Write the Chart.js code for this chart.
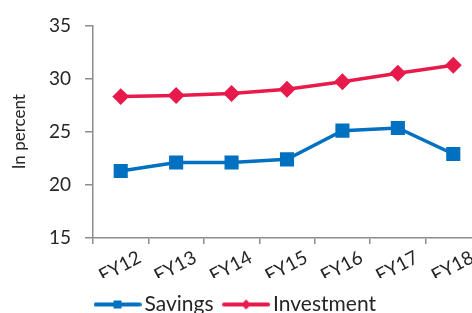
<!DOCTYPE html>
<html>
<head>
<meta charset="utf-8">
<script src="https://cdn.jsdelivr.net/npm/chart.js@4"></script>
<style>
  html, body { margin: 0; padding: 0; background: white; overflow: hidden; }
  #wrap { width: 492px; height: 325px; }
</style>
</head>
<body>
<div id="wrap"><canvas id="chart" width="492" height="325"></canvas></div>
<script>
var years = ["FY12", "FY13", "FY14", "FY15", "FY16", "FY17", "FY18"];
var savings = [21.3, 22.1, 22.1, 22.4, 25.1, 25.35, 22.9];
var investment = [28.3, 28.4, 28.6, 29.0, 29.7, 30.5, 31.25];
var yTicks = [15, 20, 25, 30, 35];

var BLUE = "#0070C0";
var RED = "#E8194B";
var AXIS = "#8C8C8C";
var TEXT = "#262626";

Chart.defaults.font.family = "Lato";
Chart.defaults.color = TEXT;

// little line+marker pictures for the legend
function legendIcon(color, style) {
    var c = document.createElement("canvas");
    c.width = 48; c.height = 14;
    var g = c.getContext("2d");
    g.strokeStyle = color;
    g.lineWidth = 4;
    g.lineCap = "round";
    g.beginPath(); g.moveTo(2, 7); g.lineTo(46, 7); g.stroke();
    g.fillStyle = color;
    if (style == "rect") {
        g.fillRect(24 - 4, 7 - 4, 8, 8);
    } else {
        g.beginPath();
        g.moveTo(24, 2); g.lineTo(29, 7); g.lineTo(24, 12); g.lineTo(19, 7);
        g.closePath(); g.fill();
    }
    return c;
}
var icons = [legendIcon(BLUE, "rect"), legendIcon(RED, "diamond")];

// nudge the legend a bit to the left, like the original
var legendShift = {
    id: "legendShift",
    afterLayout: function (chart) {
        if (chart.legend) chart.legend.left -= 8;
    }
};

new Chart(document.getElementById("chart"), {
    type: "line",
    data: {
        labels: years,
        datasets: [{
            label: "Savings",
            data: savings,
            borderColor: BLUE,
            backgroundColor: BLUE,
            borderWidth: 3.5,
            pointStyle: "rect",
            pointRadius: 7.5,
            pointHoverRadius: 7.5,
            tension: 0
        }, {
            label: "Investment",
            data: investment,
            borderColor: RED,
            backgroundColor: RED,
            borderWidth: 3.5,
            pointStyle: "rectRot",
            pointRadius: 6,
            pointHoverRadius: 6,
            tension: 0
        }]
    },
    options: {
        responsive: false,
        animation: false,
        layout: { padding: { top: 24, right: 7, left: 0, bottom: 0 } },
        plugins: {
            tooltip: { enabled: false },
            legend: {
                position: "bottom",
                labels: {
                    usePointStyle: true,
                    pointStyleWidth: 33,
                    padding: 16,
                    color: TEXT,
                    font: { size: 21 },
                    generateLabels: function (chart) {
                        return chart.data.datasets.map(function (ds, i) {
                            return {
                                text: ds.label,
                                fillStyle: ds.backgroundColor,
                                strokeStyle: ds.borderColor,
                                lineWidth: 0,
                                pointStyle: icons[i],
                                datasetIndex: i,
                                fontColor: TEXT
                            };
                        });
                    }
                }
            }
        },
        scales: {
            x: {
                offset: true,
                afterFit: function (scale) { scale.height = 40; },
                border: { color: AXIS, width: 1.5 },
                grid: {
                    offset: true,
                    drawOnChartArea: false,
                    color: AXIS,
                    lineWidth: 1.5,
                    tickLength: 6
                },
                ticks: {
                    minRotation: 28,
                    maxRotation: 28,
                    labelOffset: 19,
                    padding: 2,
                    color: TEXT,
                    font: { size: 19 }
                }
            },
            y: {
                min: 15,
                max: 35,
                afterFit: function (scale) { scale.width = 93; },
                afterBuildTicks: function (scale) {
                    scale.ticks = yTicks.map(function (v) { return { value: v }; });
                },
                border: { color: AXIS, width: 1.5 },
                grid: {
                    drawOnChartArea: false,
                    color: AXIS,
                    lineWidth: 1.5,
                    tickLength: 8
                },
                ticks: {
                    padding: 14,
                    color: TEXT,
                    font: { size: 19 }
                },
                title: {
                    display: true,
                    text: "In percent",
                    color: TEXT,
                    font: { size: 17 },
                    padding: { top: 9, bottom: 0 }
                }
            }
        }
    },
    plugins: [legendShift]
});
</script>
</body>
</html>
